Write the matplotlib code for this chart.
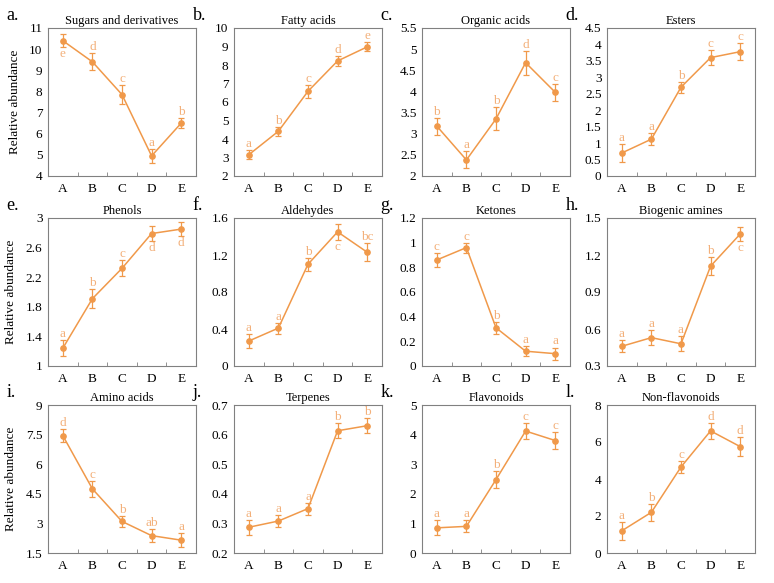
import matplotlib
matplotlib.use('Agg')
from matplotlib import pyplot as plt
from matplotlib.ticker import FixedLocator
import numpy as np

FONTE = 'Liberation Serif'
plt.rcParams['font.family'] = FONTE

grupos = ['A', 'B', 'C', 'D', 'E']

titulos = ['Sugars and derivatives', 'Fatty acids', 'Organic acids', 'Esters',
           'Phenols', 'Aldehydes', 'Ketones', 'Biogenic amines',
           'Amino acids', 'Terpenes', 'Flavonoids', 'Non-flavonoids']
rotulos = ['a.', 'b.', 'c.', 'd.', 'e.', 'f.', 'g.', 'h.', 'i.', 'j.', 'k.', 'l.']

medias = [
    [10.4, 9.4, 7.85, 4.95, 6.5],
    [3.15, 4.42, 6.58, 8.22, 8.98],
    [3.18, 2.38, 3.35, 4.68, 3.98],
    [0.7, 1.12, 2.7, 3.6, 3.78],
    [1.24, 1.91, 2.32, 2.79, 2.85],
    [0.27, 0.41, 1.1, 1.45, 1.23],
    [0.86, 0.96, 0.31, 0.12, 0.1],
    [0.46, 0.53, 0.48, 1.11, 1.37],
    [7.45, 4.75, 3.1, 2.38, 2.15],
    [0.287, 0.308, 0.35, 0.613, 0.63],
    [0.85, 0.9, 2.48, 4.12, 3.8],
    [1.2, 2.2, 4.65, 6.6, 5.75],
]
erros = [
    [0.3, 0.4, 0.45, 0.35, 0.25],
    [0.25, 0.25, 0.35, 0.25, 0.25],
    [0.2, 0.2, 0.27, 0.28, 0.2],
    [0.28, 0.18, 0.17, 0.22, 0.25],
    [0.11, 0.13, 0.11, 0.1, 0.1],
    [0.08, 0.06, 0.07, 0.09, 0.1],
    [0.06, 0.04, 0.05, 0.04, 0.05],
    [0.05, 0.06, 0.06, 0.07, 0.06],
    [0.35, 0.4, 0.3, 0.32, 0.35],
    [0.025, 0.02, 0.02, 0.025, 0.025],
    [0.25, 0.2, 0.28, 0.28, 0.3],
    [0.5, 0.45, 0.35, 0.45, 0.5],
]
letras = [
    ['e', 'd', 'c', 'a', 'b'],
    ['a', 'b', 'c', 'd', 'e'],
    ['b', 'a', 'b', 'd', 'c'],
    ['a', 'a', 'b', 'c', 'c'],
    ['a', 'b', 'c', 'd', 'd'],
    ['a', 'a', 'b', 'c', 'bc'],
    ['c', 'c', 'b', 'a', 'a'],
    ['a', 'a', 'a', 'b', 'c'],
    ['d', 'c', 'b', 'ab', 'a'],
    ['a', 'a', 'a', 'b', 'b'],
    ['a', 'a', 'b', 'c', 'c'],
    ['a', 'b', 'c', 'd', 'd'],
]
# letras que ficam abaixo do ponto
abaixo = [
    [True, False, False, False, False],
    [False] * 5,
    [False] * 5,
    [False] * 5,
    [False, False, False, True, True],
    [False, False, False, True, False],
    [False] * 5,
    [False, False, False, False, True],
    [False] * 5,
    [False] * 5,
    [False] * 5,
    [False] * 5,
]
limites = [(4, 11), (2, 10), (2, 5.5), (0, 4.5), (1, 3), (0, 1.6),
           (0, 1.2), (0.3, 1.5), (1.5, 9), (0.2, 0.7), (0, 5), (0, 8)]
passos = [1, 1, 0.5, 0.5, 0.4, 0.4, 0.2, 0.3, 1.5, 0.1, 1, 2]

COR = '#F0994A'
COR_LETRA = '#F3B07A'

fig = plt.figure(figsize=(7.74, 5.83), dpi=100)
W, H = 774, 583
lefts = [48, 234, 422, 607]
tops = [28, 218, 405]
larg, alt = 148, 148


def fmt(v):
    return ('%.2f' % v).rstrip('0').rstrip('.')


for k in range(12):
    lin, col = divmod(k, 4)
    ax = fig.add_axes([lefts[col] / W, 1 - (tops[lin] + alt) / H, larg / W, alt / H])
    x = list(range(5))
    ax.errorbar(x, medias[k], yerr=erros[k], color=COR, marker='o', markersize=3.8,
                linewidth=1.1, elinewidth=0.9, capsize=2.2, capthick=0.9)
    for i in x:
        if abaixo[k][i]:
            ax.annotate(letras[k][i], (i, medias[k][i] - erros[k][i]), xytext=(0, -0.5),
                        textcoords='offset points', ha='center', va='top',
                        color=COR_LETRA, fontsize=9.5, family=FONTE)
        else:
            ax.annotate(letras[k][i], (i, medias[k][i] + erros[k][i]), xytext=(0, 0),
                        textcoords='offset points', ha='center', va='bottom',
                        color=COR_LETRA, fontsize=9.5, family=FONTE)
    lo, hi = limites[k]
    ax.set_xlim(-0.5, 4.5)
    ax.set_ylim(lo, hi)
    yt = np.arange(lo, hi + passos[k] / 2, passos[k])
    ax.set_yticks(yt, [fmt(v) for v in yt], family=FONTE, fontsize=9.5)
    ax.set_xticks(x, grupos, family=FONTE, fontsize=9.5)
    ax.xaxis.set_minor_locator(FixedLocator([0.5, 1.5, 2.5, 3.5]))
    ax.tick_params(axis='x', which='major', length=0, pad=5)
    ax.tick_params(axis='x', which='minor', direction='in', length=3, color='#808080')
    ax.tick_params(axis='y', direction='in', length=0, pad=4)
    for s in ax.spines.values():
        s.set_color('#808080')
        s.set_linewidth(0.8)
    ax.set_title(titulos[k], fontsize=9, pad=3, family=FONTE)
    ax.text(-0.28, 1.03, rotulos[k], transform=ax.transAxes, fontsize=13,
            ha='left', va='bottom', family=FONTE)
    if col == 0:
        ax.set_ylabel('Relative abundance', fontsize=9.5, labelpad=6, family=FONTE)

fig.savefig('out.png', dpi=100)
